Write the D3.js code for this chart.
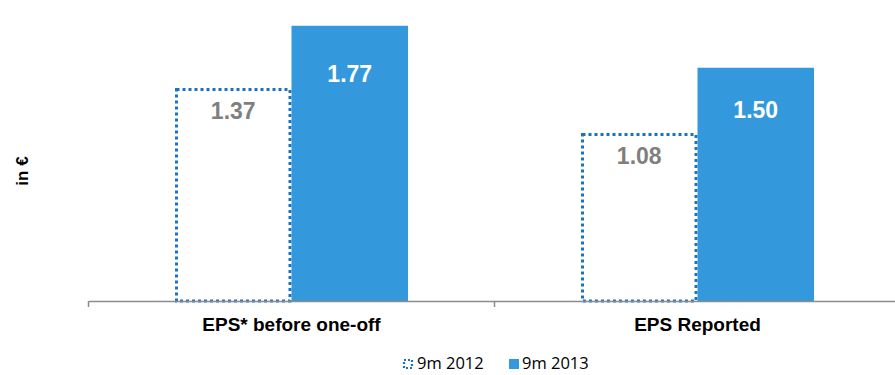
<!DOCTYPE html>
<html><head><meta charset="utf-8">
<script src="https://cdn.jsdelivr.net/npm/d3@7"></script>
<style>body{margin:0;background:#fff;}svg{display:block;}</style>
</head><body>
<svg id="c" width="895" height="375"></svg>
<script>
const categories = ["EPS* before one-off", "EPS Reported"];
const seriesNames = ["9m 2012", "9m 2013"];
const values2012 = [1.37, 1.08];
const values2013 = [1.77, 1.50];
const yLabel = "in €";

const svg = d3.select("#c");
const baseY = 301, left = 88.5, right = 900.5;
const x0 = d3.scaleBand().domain(categories).range([left, right]).paddingInner(0).paddingOuter(0);
const x1 = d3.scaleBand().domain(seriesNames).range([86.5, 86.5 + 233]);
const y = d3.scaleLinear().domain([0, 2]).range([baseY, baseY - 311]);
const FONT = "'Liberation Sans', Arial, sans-serif";

const data = categories.map((c, i) => ({cat: c, vals: [
  {s: seriesNames[0], v: values2012[i]},
  {s: seriesNames[1], v: values2013[i]}
]}));

const g = svg.append("g");
const groups = g.selectAll("g.grp").data(data).enter().append("g")
  .attr("transform", d => `translate(${x0(d.cat)},0)`);

groups.each(function(d) {
  const gg = d3.select(this);
  d.vals.forEach((e, j) => {
    const bx = x1(e.s), bw = x1.bandwidth(), by = y(e.v), bh = baseY - y(e.v);
    if (j === 0) {
      gg.append("rect").attr("x", bx + 1.5).attr("y", by + 1.5)
        .attr("width", bw - 3).attr("height", bh - 1.5)
        .attr("fill", "#fff").attr("stroke", "#1a73c2").attr("stroke-width", 3)
        .attr("stroke-dasharray", "3,3");
      gg.append("text").attr("x", bx + bw / 2).attr("y", by + 31)
        .attr("text-anchor", "middle").attr("font-family", FONT)
        .attr("font-weight", "bold").attr("font-size", 23).attr("fill", "#7f7f7f")
        .text(e.v.toFixed(2));
    } else {
      gg.append("rect").attr("x", bx).attr("y", by).attr("width", bw).attr("height", bh)
        .attr("fill", "#3399dc");
      gg.append("text").attr("x", bx + bw / 2).attr("y", by + 56 - (e.v < 1.6 ? 6 : 0))
        .attr("text-anchor", "middle").attr("font-family", FONT)
        .attr("font-weight", "bold").attr("font-size", 23).attr("fill", "#fff")
        .text(e.v.toFixed(2));
    }
  });
});

// axis
const axis = d3.axisBottom(x0).tickSize(0).tickFormat("");
const ax = svg.append("g").attr("transform", `translate(0,${baseY})`).call(axis);
ax.select(".domain").attr("stroke", "#8c8c8c").attr("stroke-width", 1.5);
const tickPos = [left, x0(categories[1]), right];
svg.selectAll("line.tk").data(tickPos).enter().append("line")
  .attr("x1", d => d).attr("x2", d => d).attr("y1", baseY).attr("y2", baseY + 6)
  .attr("stroke", "#8c8c8c").attr("stroke-width", 1.5);

svg.selectAll("text.cat").data(categories).enter().append("text")
  .attr("x", d => x0(d) + x0.bandwidth() / 2).attr("y", 331)
  .attr("text-anchor", "middle").attr("font-family", FONT)
  .attr("font-weight", "bold").attr("font-size", 19).attr("fill", "#000").text(d => d);

svg.append("text").attr("transform", "translate(28,171) rotate(-90)")
  .attr("text-anchor", "middle").attr("font-family", FONT)
  .attr("font-weight", "bold").attr("font-size", 17).attr("fill", "#000").text(yLabel);

// legend
const LF = "'Open Sans', sans-serif";
svg.append("rect").attr("x", 404).attr("y", 360).attr("width", 8).attr("height", 8)
  .attr("fill", "none").attr("stroke", "#1a73c2").attr("stroke-width", 2.2).attr("stroke-dasharray", "2,2");
svg.append("text").attr("x", 417).attr("y", 369).attr("font-family", LF).attr("font-size", 16.5)
  .attr("fill", "#000").text(seriesNames[0]);
svg.append("rect").attr("x", 509).attr("y", 359).attr("width", 10).attr("height", 10).attr("fill", "#3399dc");
svg.append("text").attr("x", 522).attr("y", 369).attr("font-family", LF).attr("font-size", 16.5)
  .attr("fill", "#000").text(seriesNames[1]);
</script>
</body></html>
